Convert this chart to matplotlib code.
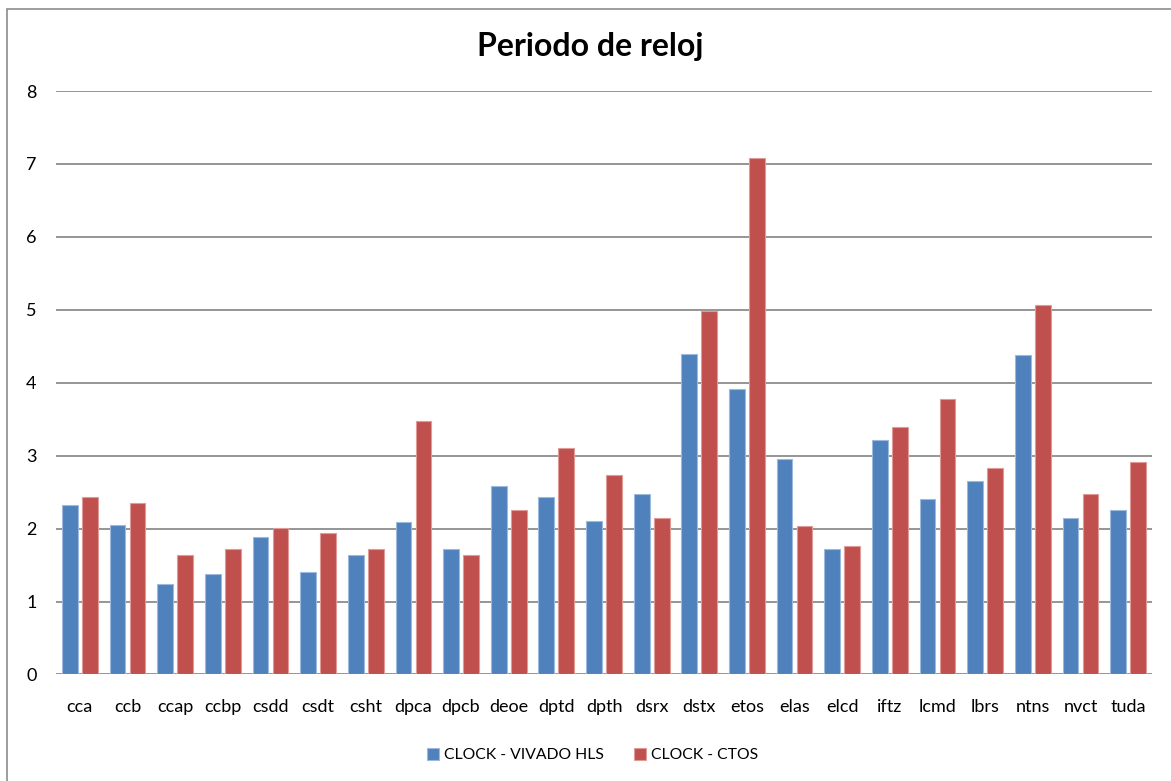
import numpy as np
import matplotlib.pyplot as plt
from matplotlib.patches import Rectangle

plt.rcParams['font.family'] = ['Lato', 'DejaVu Sans']

# benchmarks y periodos de reloj (ns)
benchmarks = ['cca', 'ccb', 'ccap', 'ccbp', 'csdd', 'csdt', 'csht', 'dpca', 'dpcb',
              'deoe', 'dptd', 'dpth', 'dsrx', 'dstx', 'etos', 'elas', 'elcd', 'iftz',
              'lcmd', 'lbrs', 'ntns', 'nvct', 'tuda']
vivado = [2.32, 2.05, 1.24, 1.38, 1.88, 1.40, 1.64, 2.09, 1.72,
          2.58, 2.43, 2.10, 2.47, 4.39, 3.91, 2.95, 1.72, 3.21,
          2.40, 2.65, 4.38, 2.14, 2.25]
ctos = [2.43, 2.35, 1.64, 1.72, 2.01, 1.94, 1.72, 3.47, 1.64,
        2.26, 3.11, 2.74, 2.15, 4.98, 7.08, 2.04, 1.76, 3.39,
        3.78, 2.83, 5.07, 2.47, 2.91]

fig = plt.figure(figsize=(11.71, 7.81), dpi=100)
ax = fig.add_axes([0.0478, 0.1364, 0.936, 0.747])

x = np.arange(len(benchmarks))
w = 0.33
ax.bar(x - 0.21, vivado, w, color='#4F81BD', edgecolor='#9DB9DE', linewidth=0.8,
       label='CLOCK - VIVADO HLS', zorder=3)
ax.bar(x + 0.21, ctos, w, color='#C0504D', edgecolor='#E09A98', linewidth=0.8,
       label='CLOCK - CTOS', zorder=3)

ax.set_xlim(-0.5, len(benchmarks) - 0.5)
ax.set_ylim(0, 8)
ax.set_yticks(range(0, 9))
ax.set_xticks(x)
ax.set_xticklabels(benchmarks)
ax.tick_params(axis='both', length=0, labelsize=13, colors='#000000')
ax.tick_params(axis='y', pad=14)
ax.tick_params(axis='x', pad=18)
ax.grid(axis='y', color='#8C8C8C', linewidth=1.3, zorder=0)
for s in ax.spines.values():
    s.set_visible(False)

fig.text(0.504, 0.94, 'Periodo de reloj', ha='center', va='center',
         fontsize=23, fontweight='bold')

fig.legend(loc='center', bbox_to_anchor=(0.506, 0.033), ncol=2, frameon=False,
           fontsize=11.3, handlelength=0.8, handleheight=0.8, handletextpad=0.3,
           columnspacing=1.9)

# marco del grafico
fig.patches.append(Rectangle((7 / 1171, -0.01), 1.01, 1 - 9 / 781 + 0.01,
                             transform=fig.transFigure, fill=False,
                             edgecolor='#8C8C8C', linewidth=1.2))

fig.savefig('out.png', dpi=100)
